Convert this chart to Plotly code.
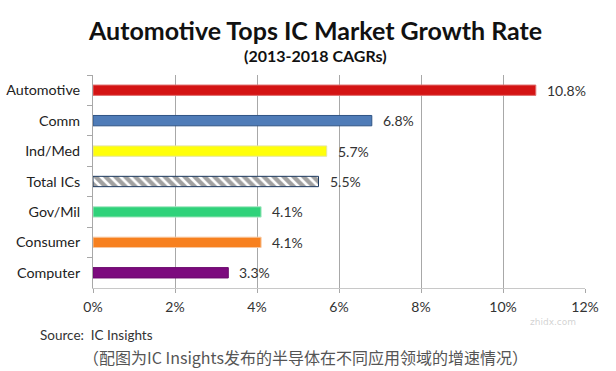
import plotly.graph_objects as go

categories = ["Automotive", "Comm", "Ind/Med", "Total ICs", "Gov/Mil", "Consumer", "Computer"]
values = [10.8, 6.8, 5.7, 5.5, 4.1, 4.1, 3.3]
value_labels = ["10.8%", "6.8%", "5.7%", "5.5%", "4.1%", "4.1%", "3.3%"]
x_ticks = [0, 2, 4, 6, 8, 10, 12]
x_tick_labels = ["0%", "2%", "4%", "6%", "8%", "10%", "12%"]

bar_colors = ["#d41414", "#4f7cb8", "#ffff0a", "#ffffff", "#2fd27a", "#f7801f", "#7c0a7e"]
line_colors = ["#e07070", "#2f5485", "#e5e5a0", "#1d3a60", "#a8e8c4", "#f8c8a0", "#6a0a6c"]
patterns = ["", "", "", "\\", "", "", ""]

fig = go.Figure()
fig.add_trace(go.Bar(
    y=categories, x=values, orientation="h", width=0.34,
    marker=dict(color=bar_colors, line=dict(color=line_colors, width=1),
                pattern=dict(shape=patterns, fgcolor="#142e55", bgcolor="#ffffff",
                             size=7, solidity=0.62)),
    hoverinfo="skip", showlegend=False,
))

for c, v, t in zip(categories, values, value_labels):
    fig.add_annotation(x=v, y=c, text=t, xanchor="left", yanchor="middle",
                       xshift=9, showarrow=False,
                       font=dict(family="Lato", size=14, color="#333333"))

fig.add_annotation(xref="paper", yref="paper", x=0.452, y=1.0, yshift=45,
                   text="<b>Automotive Tops IC Market Growth Rate</b>", showarrow=False,
                   font=dict(family="Lato", size=25, color="#111111"), xanchor="center", yanchor="middle")
fig.add_annotation(xref="paper", yref="paper", x=0.452, y=1.0, yshift=20,
                   text="<b>(2013-2018 CAGRs)</b>", showarrow=False,
                   font=dict(family="Lato", size=16, color="#111111"), xanchor="center", yanchor="middle")
fig.add_annotation(xref="paper", yref="paper", x=-0.112, y=0, yshift=-47,
                   text="Source:  IC Insights", showarrow=False, xanchor="left", yanchor="middle",
                   font=dict(family="Lato", size=13.5, color="#333333"))
fig.add_annotation(xref="paper", yref="paper", x=0.431, y=0, yshift=-69,
                   text="（配图为IC Insights发布的半导体在不同应用领域的增速情况）", showarrow=False,
                   xanchor="center", yanchor="middle",
                   font=dict(family="Noto Sans CJK SC", size=16, color="#555555"))
fig.add_annotation(xref="paper", yref="paper", x=0.985, y=0, yshift=-34,
                   text="zhidx.com", showarrow=False, xanchor="right", yanchor="middle",
                   font=dict(family="DejaVu Sans", size=9, color="rgba(180,180,180,0.6)"))

fig.update_layout(
    width=616, height=371,
    margin=dict(l=93, r=31, t=75, b=83, autoexpand=False),
    paper_bgcolor="white", plot_bgcolor="white",
    xaxis=dict(range=[0, 12], tickvals=x_ticks, ticktext=x_tick_labels,
               showgrid=True, gridcolor="#a8a8a8", gridwidth=1,
               showline=True, linecolor="#c8c8c8", linewidth=1,
               ticks="outside", ticklen=4, tickcolor="#a8a8a8",
               zeroline=False, fixedrange=True, ticklabelstandoff=2, automargin=False,
               tickfont=dict(family="Lato", size=14, color="#333333")),
    yaxis=dict(categoryorder="array", categoryarray=categories, autorange="reversed",
               showline=True, linecolor="#a8a8a8", linewidth=1,
               ticks="outside", tickson="boundaries", ticklen=5, tickcolor="#a8a8a8",
               showgrid=False, fixedrange=True, ticklabelstandoff=9, automargin=False,
               tickfont=dict(family="Lato", size=14.3, color="#222222")),
)

fig.write_html("out.html", config={"displayModeBar": False},
               post_script="document.body.style.margin='0';")
